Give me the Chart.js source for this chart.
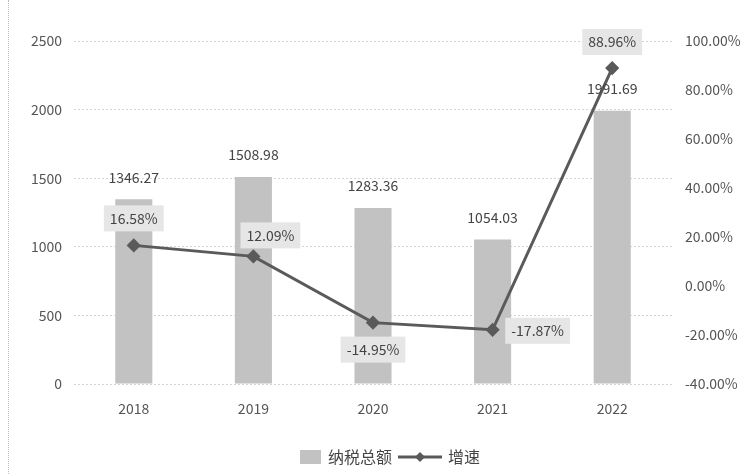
<!DOCTYPE html>
<html>
<head>
<meta charset="utf-8">
<script src="https://cdn.jsdelivr.net/npm/chart.js@4.4.0/dist/chart.umd.min.js"></script>
<style>
  html, body { margin: 0; padding: 0; background: #fff; }
  #wrap { position: relative; width: 754px; height: 474px; }
  #frame { position: absolute; left: 8px; top: 0; bottom: 0; border-left: 1px dotted #bdbdbd; }
  canvas { position: absolute; left: 0; top: 0; }
</style>
</head>
<body>
<div id="wrap">
  <div id="frame"></div>
  <canvas id="taxChart" width="754" height="474"></canvas>
</div>
<script>
// chart data
const years = ['2018', '2019', '2020', '2021', '2022'];
const taxTotal = [1346.27, 1508.98, 1283.36, 1054.03, 1991.69]; // 纳税总额
const growthRate = [16.58, 12.09, -14.95, -17.87, 88.96]; // 增速 (%)
const leftTicks = [0, 500, 1000, 1500, 2000, 2500];
const rightTicks = [-40, -20, 0, 20, 40, 60, 80, 100];

// where each growth label sits relative to its point
const growthLabelOffsets = [[0, -27], [17, -21], [0, 27], [45, 1], [0, -26]];

const textColor = '#555';
const barColor = '#c2c2c2';
const lineColor = '#5a5a5a';
const labelBoxColor = '#e6e6e6';
const fontFamily = '"Microsoft YaHei", "Noto Sans CJK SC", sans-serif';

Chart.defaults.font.family = fontFamily;
Chart.defaults.font.size = 14;
Chart.defaults.color = textColor;

// value labels + legend drawn by hand
const labelPlugin = {
    id: 'labelPlugin',
    afterDatasetsDraw(chart) {
        const ctx = chart.ctx;
        ctx.save();
        ctx.font = '14px ' + fontFamily;
        ctx.textAlign = 'center';
        ctx.textBaseline = 'middle';

        // bar values
        chart.getDatasetMeta(1).data.forEach((bar, i) => {
            ctx.fillStyle = '#444';
            ctx.fillText(taxTotal[i].toFixed(2), bar.x, bar.y - 22);
        });

        // growth values in grey boxes
        chart.getDatasetMeta(0).data.forEach((pt, i) => {
            const txt = growthRate[i].toFixed(2) + '%';
            const cx = pt.x + growthLabelOffsets[i][0];
            const cy = pt.y + growthLabelOffsets[i][1];
            const w = ctx.measureText(txt).width + 12;
            const h = 26;
            ctx.fillStyle = labelBoxColor;
            ctx.fillRect(cx - w / 2, cy - h / 2, w, h);
            ctx.fillStyle = '#444';
            ctx.fillText(txt, cx, cy);
        });
        ctx.restore();
    },
    afterDraw(chart) {
        const ctx = chart.ctx;
        ctx.save();
        ctx.font = '16px ' + fontFamily;
        ctx.textBaseline = 'middle';
        ctx.textAlign = 'left';
        const y = 457;
        let x = 300;
        ctx.fillStyle = barColor;
        ctx.fillRect(x, y - 7, 21, 14);
        x += 28;
        ctx.fillStyle = '#444';
        ctx.fillText('纳税总额', x, y);
        x += ctx.measureText('纳税总额').width + 6;
        ctx.strokeStyle = lineColor;
        ctx.lineWidth = 3;
        ctx.beginPath();
        ctx.moveTo(x, y);
        ctx.lineTo(x + 44, y);
        ctx.stroke();
        ctx.fillStyle = lineColor;
        ctx.beginPath();
        ctx.moveTo(x + 22, y - 5);
        ctx.lineTo(x + 27, y);
        ctx.lineTo(x + 22, y + 5);
        ctx.lineTo(x + 17, y);
        ctx.closePath();
        ctx.fill();
        x += 50;
        ctx.fillStyle = '#444';
        ctx.fillText('增速', x, y);
        ctx.restore();
    }
};

const taxChart = new Chart(document.getElementById('taxChart'), {
    data: {
        labels: years,
        datasets: [{
            type: 'line',
            label: '增速',
            data: growthRate,
            yAxisID: 'y1',
            borderColor: lineColor,
            backgroundColor: lineColor,
            borderWidth: 3,
            pointStyle: 'rectRot',
            pointRadius: 5,
            pointBackgroundColor: lineColor,
            pointBorderColor: lineColor,
            tension: 0,
            order: 1
        }, {
            type: 'bar',
            label: '纳税总额',
            data: taxTotal,
            yAxisID: 'y',
            backgroundColor: barColor,
            barPercentage: 0.31,
            categoryPercentage: 1,
            order: 2
        }]
    },
    options: {
        responsive: false,
        animation: false,
        layout: { padding: { top: 41, left: 0, right: 0, bottom: 0 } },
        plugins: {
            legend: { display: false },
            tooltip: { enabled: false }
        },
        scales: {
            x: {
                grid: { display: false },
                border: { display: false },
                ticks: { padding: 8, color: textColor },
                afterFit(scale) { scale.height = 90; }
            },
            y: {
                position: 'left',
                min: leftTicks[0],
                max: leftTicks[leftTicks.length - 1],
                afterBuildTicks(scale) { scale.ticks = leftTicks.map(v => ({ value: v })); },
                grid: { color: '#d4d4d4', drawTicks: false },
                border: { display: false, dash: [2, 2] },
                ticks: { padding: 12, color: textColor, callback: v => String(v) },
                afterFit(scale) { scale.width = 74; }
            },
            y1: {
                position: 'right',
                min: rightTicks[0],
                max: rightTicks[rightTicks.length - 1],
                afterBuildTicks(scale) { scale.ticks = rightTicks.map(v => ({ value: v })); },
                grid: { display: false },
                border: { display: false },
                ticks: {
                    padding: 5,
                    color: textColor,
                    callback: v => v.toFixed(2) + '%'
                },
                afterFit(scale) { scale.width = 82; }
            }
        }
    },
    plugins: [labelPlugin]
});
</script>
</body>
</html>
